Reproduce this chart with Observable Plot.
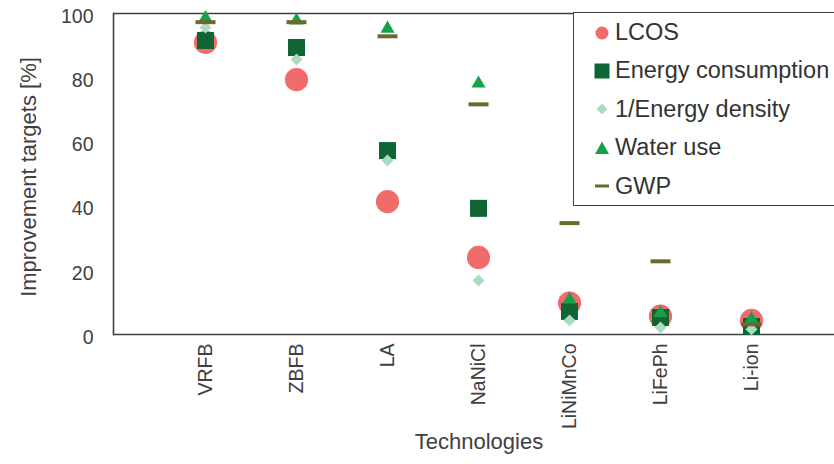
<!DOCTYPE html>
<html><head><meta charset="utf-8">
<script src="https://cdn.jsdelivr.net/npm/d3@7"></script>
<script src="https://cdn.jsdelivr.net/npm/@observablehq/plot@0.6"></script>
<style>
body{margin:0;background:#fff;font-family:"Liberation Sans",Arial,sans-serif;}
#wrap{position:relative;width:834px;height:464px;overflow:hidden;}
#legend{position:absolute;left:573px;top:12px;width:300px;height:194px;border:1.5px solid #404040;box-sizing:border-box;background:#fff;}
.row{position:absolute;left:0;height:30px;display:flex;align-items:center;font-size:23.5px;color:#333;white-space:nowrap;}
.row svg{margin-left:21px;margin-right:6px;}
</style></head>
<body><div id="wrap"><div id="chart"></div><div id="legend"></div></div>
<script>
const technologies = ["VRFB","ZBFB","LA","NaNiCl","LiNiMnCo","LiFePh","Li-ion"];
const lcos = [91.0, 79.4, 41.4, 24.0, 9.8, 5.7, 4.4];
const energyConsumption = [91.6, 89.4, 57.3, 39.3, 7.2, 5.3, 2.5];
const invEnergyDensity = [95.6, 85.7, 54.2, 16.8, 4.4, 2.2, 1.6];
const waterUse = [98.6, 97.8, 95.3, 78.2, 10.9, 6.7, 4.8];
const gwp = [97.3, 97.3, 92.9, 71.7, 34.7, 22.8, 3.2];
const yTicks = [0, 20, 40, 60, 80, 100];

const seriesNames = ["LCOS","Energy consumption","1/Energy density","Water use","GWP"];
const seriesValues = [lcos, energyConsumption, invEnergyDensity, waterUse, gwp];
const colors = ["#f26b6b","#0f6634","#acdcc0","#17a14a","#6b6a2c"];

const dash = {draw(ctx){ ctx.moveTo(-10,-2); ctx.lineTo(10,-2); ctx.lineTo(10,2); ctx.lineTo(-10,2); ctx.closePath(); }};
const styles = [
  {symbol:"circle", r:11.6},
  {symbol:"square", r:9.6},
  {symbol:"diamond2", r:5.4},
  {symbol:"triangle", r:5.2},
  {symbol:dash, r:5}
];

const rows = (vals) => technologies.map((t,i)=>({tech:t, value:vals[i]}));

const chart = Plot.plot({
  width:834, height:464,
  marginLeft:113, marginRight:0, marginTop:13, marginBottom:130,
  style:{fontFamily:"'Liberation Sans', Arial, sans-serif", color:"#404040", background:"transparent", overflow:"visible"},
  x:{type:"point", domain:technologies, padding:0, insetLeft:90, insetRight:82, label:null},
  y:{domain:[0,100], label:null},
  marks:[
    Plot.ruleY([0,100], {stroke:"#404040", strokeWidth:1.6}),
    Plot.frame({anchor:"left", stroke:"#404040", strokeWidth:1.6}),
    Plot.axisY({ticks:yTicks, tickSize:0, tickPadding:20, fontSize:19.5, dy:3, label:null, fill:"#404040"}),
    Plot.axisX({tickSize:0, tickRotate:-90, tickPadding:9, fontSize:19.5, label:null, fill:"#404040"}),
    Plot.text(["Improvement targets [%]"], {frameAnchor:"left", textAnchor:"middle", rotate:-90, dx:-85, dy:3, fontSize:22, fill:"#404040"}),
    Plot.text(["Technologies"], {frameAnchor:"bottom", dy:114, dx:5, fontSize:22, fill:"#404040"}),
    ...seriesValues.map((vals,k)=>Plot.dot(rows(vals), {x:"tech", y:"value", fill:colors[k], stroke:"none", symbol:styles[k].symbol, r:styles[k].r}))
  ]
});
document.getElementById("chart").appendChild(chart);

// legend
const legend = document.getElementById("legend");
const legendMarkers = [
  '<circle cx="7" cy="7" r="6.5" fill="'+colors[0]+'"/>',
  '<rect x="-0.5" y="-0.5" width="15" height="15" fill="'+colors[1]+'"/>',
  '<path d="M7,1.5L12.5,7L7,12.5L1.5,7Z" fill="'+colors[2]+'"/>',
  '<path d="M7,0.5L14,13L0,13Z" fill="'+colors[3]+'"/>',
  '<rect x="0" y="5.5" width="14" height="3" fill="'+colors[4]+'"/>'
];
seriesNames.forEach((name,k)=>{
  const d = document.createElement("div");
  d.className = "row";
  d.style.top = (4.5 + k*38.4) + "px";
  d.innerHTML = '<svg width="14" height="14" viewBox="0 0 14 14" overflow="visible">'+legendMarkers[k]+'</svg><span>'+name+'</span>';
  legend.appendChild(d);
});
</script>
</body></html>
